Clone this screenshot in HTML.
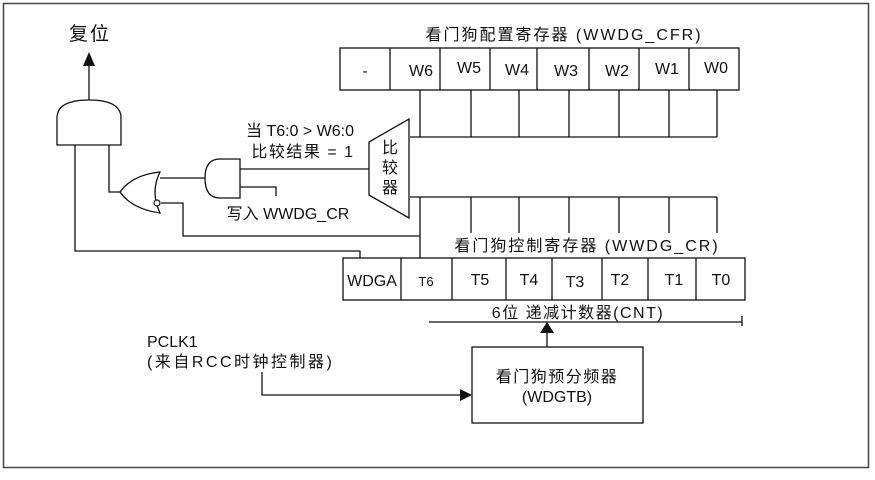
<!DOCTYPE html><html><head><style>body{margin:0;background:#fff}svg text{font-family:"Liberation Sans","Noto Sans CJK SC",sans-serif;fill:#111}</style></head><body>
<svg width="875" height="475" viewBox="0 0 875 475" xmlns="http://www.w3.org/2000/svg">
<rect x="3.5" y="3.5" width="865" height="464" fill="none" stroke="#444" stroke-width="1.5"/>
<g stroke="#111" stroke-width="1.3" fill="none">
<rect x="340" y="48" width="399" height="42"/>
<path d="M390 48V90M440 48V90M490 48V90M537 48V90M589 48V90M639 48V90M689 48V90"/>
<path d="M420 90V137M471 90V137M519 90V137M569 90V137M619 90V137M669 90V137M717 90V137M410 137H717"/>
<path d="M410 197H717M420 197V258M471 197V233M519 197V233M569 197V233M619 197V233M669 197V233M717 197V233"/>
<path d="M409 119L409 218L369 195L369 142Z"/>
<rect x="343" y="258" width="402" height="42"/>
<path d="M401 258V300M452 258V300M506 258V300M552 258V300M602 258V300M648 258V300M696 258V300"/>
<path d="M429 322H742M742 316V326"/>
<path d="M547 347V332"/>
<rect x="472" y="347" width="171" height="76"/>
<path d="M262 372V395H460"/>
<path d="M57 145V118Q57 100 89 100Q121 100 121 118V145Z"/>
<path d="M89 100V66"/>
<path d="M75 145V251H360V258M109 145V192H120"/>
<path d="M120 192Q132 175 160 172Q150 192 160 213Q132 209 120 192Z"/>
<path d="M160 178H205M161 203H183V236H420"/>
<path d="M240 159H220Q205 159 205 178Q205 198 220 198H240Z"/>
<path d="M240 169H369M240 187H276V196"/>
</g>
<circle cx="157" cy="203" r="3" fill="#fff" stroke="#111" stroke-width="1.2"/>
<path d="M83 66L95 66L89 52Z M540 333L554 333L547 322Z M460 389L472 395L460 401Z" fill="#111"/>
<g font-size="15" text-anchor="middle">
<text x="90" y="40" font-size="19" letter-spacing="2">复位</text>
<text x="564" y="40" font-size="16" letter-spacing="2">看门狗配置寄存器 (WWDG_CFR)</text>
<text x="365" y="76">-</text><text x="421" y="76" font-size="16">W6</text><text x="469" y="73" font-size="16">W5</text><text x="517" y="75" font-size="16">W4</text><text x="566" y="76" font-size="16">W3</text><text x="617" y="76" font-size="16">W2</text><text x="667" y="74" font-size="16">W1</text><text x="716" y="73" font-size="16">W0</text>
<text x="300" y="136" font-size="16">当 T6:0 &gt; W6:0</text>
<text x="303" y="157" font-size="16" letter-spacing="1.5">比较结果 = 1</text>
<text x="288" y="219" font-size="16">写入 WWDG_CR</text>
<text x="390" y="153" font-size="16">比</text><text x="390" y="173" font-size="16">较</text><text x="390" y="193" font-size="16">器</text>
<text x="587" y="251" font-size="16" letter-spacing="2">看门狗控制寄存器 (WWDG_CR)</text>
<text x="372" y="286" font-size="16">WDGA</text><text x="426" y="286" font-size="13">T6</text><text x="480" y="285" font-size="16">T5</text><text x="529" y="285" font-size="16">T4</text><text x="575" y="287" font-size="16">T3</text><text x="620" y="285" font-size="16">T2</text><text x="674" y="285" font-size="16">T1</text><text x="721" y="285" font-size="16">T0</text>
<text x="578" y="318" font-size="16" letter-spacing="1.5">6位 递减计数器(CNT)</text>
<text x="557" y="382" font-size="16" letter-spacing="1.5">看门狗预分频器</text>
<text x="557" y="402" font-size="16">(WDGTB)</text>
</g>
<text x="147" y="347" font-size="16">PCLK1</text>
<text x="147" y="367" font-size="16" letter-spacing="2.5">(来自RCC时钟控制器)</text>
</svg></body></html>
